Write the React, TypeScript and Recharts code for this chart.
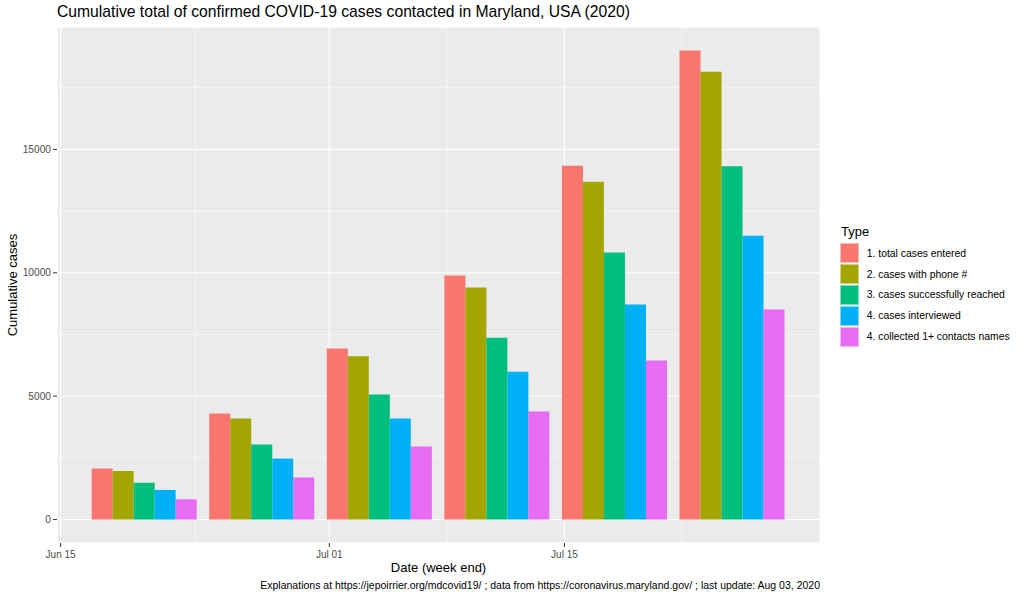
import React from 'react';
import { ComposedChart, Bar, XAxis, YAxis, CartesianGrid } from 'recharts';

// week-end dates and cumulative counts
const weekEnds = ['2020-06-20', '2020-06-27', '2020-07-04', '2020-07-11', '2020-07-18', '2020-07-25'];
const totalEntered = [2070, 4300, 6930, 9890, 14340, 19010];
const withPhone = [1970, 4100, 6620, 9410, 13690, 18150];
const reached = [1490, 3040, 5070, 7370, 10820, 14320];
const interviewed = [1200, 2470, 4100, 5990, 8720, 11500];
const contactsNamed = [820, 1700, 2960, 4380, 6450, 8510];

const seriesNames = [
    '1. total cases entered',
    '2. cases with phone #',
    '3. cases successfully reached',
    '4. cases interviewed',
    '4. collected 1+ contacts names',
];
const seriesColors = ['#F8766D', '#A3A500', '#00BF7D', '#00B0F6', '#E76BF3'];
const seriesValues = [totalEntered, withPhone, reached, interviewed, contactsNamed];

const xTickDates = ['2020-06-15', '2020-07-01', '2020-07-15'];
const xTickLabels = ['Jun 15', 'Jul 01', 'Jul 15'];
const xMinorDates = ['2020-06-23', '2020-07-08', '2020-07-22'];
const yTicks = [0, 5000, 10000, 15000];
const yMinorTicks = [2500, 7500, 12500, 17500];

const ORIGIN = Date.UTC(2020, 5, 15);
const toDay = (s: string) => {
    const [y, m, d] = s.split('-').map(Number);
    return (Date.UTC(y, m - 1, d) - ORIGIN) / 86400000;
};

const chartData = weekEnds.map((w, i) => {
    const row: any = { day: toDay(w) };
    seriesValues.forEach((vals, k) => { row['s' + k] = vals[i]; });
    return row;
});

const xTicks = xTickDates.map(toDay);
const xMinor = xMinorDates.map(toDay);
const xDomain = [-0.215, 45.215];
const yDomain = [-951, 19964];

const FONT = '"Liberation Sans", Arial, Helvetica, sans-serif';

const App: React.FC = () => {
    return (
        <div style={{ position: 'absolute', left: 0, top: 0, width: 1023, height: 597, background: '#fff', fontFamily: FONT }}>
            <div style={{ position: 'absolute', left: 57, top: 3, fontSize: 15.7, lineHeight: '18px', color: '#000', whiteSpace: 'nowrap' }}>
                Cumulative total of confirmed COVID-19 cases contacted in Maryland, USA (2020)
            </div>

            <div style={{ position: 'absolute', left: 0, top: 0 }}>
                <ComposedChart
                    width={1023}
                    height={597}
                    data={chartData}
                    margin={{ top: 27, right: 203, bottom: 24, left: 0 }}
                    barGap={0}
                    barCategoryGap="5%"
                >
                    <XAxis
                        xAxisId="minor"
                        dataKey="day"
                        type="number"
                        domain={xDomain}
                        allowDataOverflow
                        ticks={xMinor}
                        hide
                    />
                    <YAxis
                        yAxisId="minor"
                        type="number"
                        domain={yDomain}
                        allowDataOverflow
                        ticks={yMinorTicks}
                        hide
                    />
                    <CartesianGrid xAxisId="minor" yAxisId="minor" fill="#EBEBEB" stroke="#FFFFFF" strokeWidth={0.55} />
                    <CartesianGrid stroke="#FFFFFF" strokeWidth={1.1} />
                    <XAxis
                        dataKey="day"
                        type="number"
                        domain={xDomain}
                        allowDataOverflow
                        ticks={xTicks}
                        tickFormatter={(v) => xTickLabels[xTicks.indexOf(v)] ?? ''}
                        height={30}
                        axisLine={false}
                        tickLine={{ stroke: '#333333' }}
                        tickSize={4}
                        tickMargin={4}
                        tick={{ fill: '#4D4D4D', fontSize: 10, fontFamily: FONT }}
                        interval={0}
                    />
                    <YAxis
                        type="number"
                        domain={yDomain}
                        allowDataOverflow
                        ticks={yTicks}
                        width={57}
                        axisLine={false}
                        tickLine={{ stroke: '#333333' }}
                        tickSize={4}
                        tickMargin={2}
                        tick={{ fill: '#4D4D4D', fontSize: 10.2, fontFamily: FONT }}
                        interval={0}
                    />
                    {seriesNames.map((name, k) => (
                        <Bar
                            key={name}
                            dataKey={'s' + k}
                            name={name}
                            fill={seriesColors[k]}
                            isAnimationActive={false}
                        />
                    ))}
                </ComposedChart>
            </div>

            <div style={{ position: 'absolute', left: 12, top: 285, transform: 'translate(-50%, -50%) rotate(-90deg)', fontSize: 13, lineHeight: '15px', whiteSpace: 'nowrap', color: '#000' }}>
                Cumulative cases
            </div>
            <div style={{ position: 'absolute', left: 438.5, top: 567, transform: 'translate(-50%, -50%)', fontSize: 13, lineHeight: '15px', whiteSpace: 'nowrap', color: '#000' }}>
                Date (week end)
            </div>
            <div style={{ position: 'absolute', right: 203, top: 579, fontSize: 10.5, lineHeight: '12px', whiteSpace: 'nowrap', color: '#000' }}>
                Explanations at https://jepoirrier.org/mdcovid19/ ; data from https://coronavirus.maryland.gov/ ; last update: Aug 03, 2020
            </div>

            <div style={{ position: 'absolute', left: 840, top: 224 }}>
                <div style={{ fontSize: 13, lineHeight: '15px', color: '#000', marginLeft: 1, marginBottom: 4 }}>Type</div>
                {seriesNames.map((name, k) => (
                    <div key={name} style={{ display: 'flex', alignItems: 'center', height: 20.8 }}>
                        <div style={{ width: 19, height: 20, background: seriesColors[k], boxSizing: 'border-box', border: '0.5px solid rgba(255,255,255,0.5)' }} />
                        <div style={{ marginLeft: 7.7, fontSize: 10.4, color: '#000', whiteSpace: 'nowrap' }}>{name}</div>
                    </div>
                ))}
            </div>
        </div>
    );
};

export default App;
